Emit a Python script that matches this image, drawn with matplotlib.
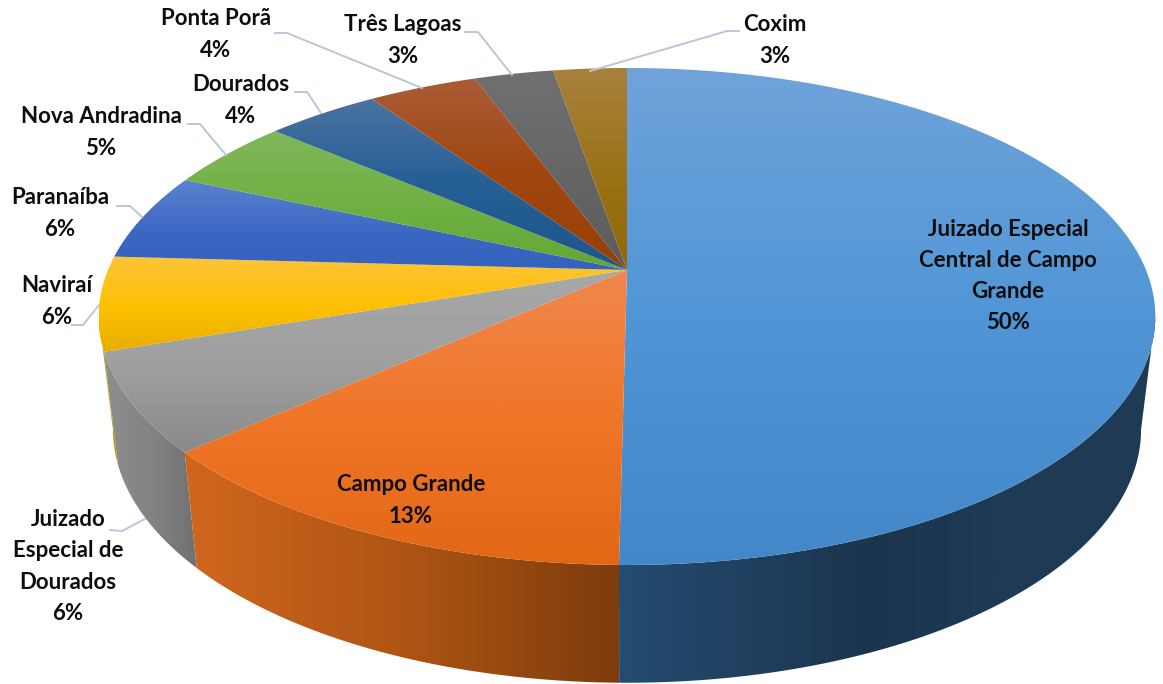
import numpy as np
import matplotlib
matplotlib.use("Agg")
import matplotlib.pyplot as plt
from matplotlib.patches import Polygon

# ---- data ----
categories = ["Juizado Especial\nCentral de Campo\nGrande", "Campo Grande",
              "Juizado\nEspecial de\nDourados", "Naviraí", "Paranaíba",
              "Nova Andradina", "Dourados", "Ponta Porã", "Três Lagoas", "Coxim"]
shares = [50.2, 13.2, 6.4, 6.1, 5.7, 4.65, 4.15, 4.0, 2.9, 2.7]
percent_labels = ["50%", "13%", "6%", "6%", "6%", "5%", "4%", "4%", "3%", "3%"]

# ---- style: (position, rgb) gradient stops ----
top_stops = [
    [(0, (112, 163, 218)), (.5, (80, 150, 214)), (1, (66, 135, 200))],
    [(0, (240, 135, 78)), (.5, (240, 118, 40)), (1, (226, 104, 22))],
    [(0, (168, 168, 168)), (.5, (160, 160, 160)), (1, (138, 138, 138))],
    [(0, (252, 196, 58)), (.55, (255, 192, 0)), (1, (230, 174, 0))],
    [(0, (92, 130, 208)), (.6, (58, 103, 194)), (1, (52, 98, 188))],
    [(0, (128, 184, 90)), (.6, (110, 175, 65)), (1, (100, 165, 55))],
    [(0, (75, 115, 160)), (.5, (36, 95, 150)), (1, (30, 85, 140))],
    [(0, (170, 92, 55)), (.5, (160, 70, 15)), (1, (150, 65, 5))],
    [(0, (112, 112, 112)), (.5, (102, 102, 102)), (1, (92, 92, 92))],
    [(0, (168, 130, 62)), (.5, (155, 115, 25)), (1, (145, 105, 5))],
]
wall_stops = [
    [(0, (37, 76, 114)), (.45, (27, 53, 78)), (.7, (30, 58, 84)), (1, (30, 58, 85))],
    [(0, (208, 102, 30)), (.5, (175, 85, 20)), (1, (125, 60, 12))],
    [(0, (142, 142, 142)), (.55, (130, 130, 130)), (1, (112, 112, 112))],
    [(0, (200, 155, 0)), (1, (190, 150, 0))],
] + [[(0, (120, 120, 120)), (1, (120, 120, 120))]] * 6

W, H = 1163, 684
CX = 627
PERSP = 0.187
TOP_R, TOP_K, TOP_Y = 519, 239.8, 270
BOT_R, BOT_K, BOT_Y = 505, 244.5, 382
FRONT_FROM = np.arccos(-PERSP)           # where the rim is at its widest
FRONT_TO = 2 * np.pi - FRONT_FROM


def rim(theta, r, k, ay):
    x, y = np.sin(theta), np.cos(theta)
    s = 1 / (1 + PERSP * y)
    return np.column_stack([CX + r * x * s, ay - k * y * s])


def gradient(stops, n=400):
    pos = [p for p, _ in stops]
    cols = np.array([c for _, c in stops], float) / 255
    t = np.linspace(0, 1, n)
    return np.column_stack([np.interp(t, pos, cols[:, i]) for i in range(3)])


def paint(ax, pts, stops, horizontal, z):
    x0, y0 = pts.min(axis=0)
    x1, y1 = pts.max(axis=0)
    g = gradient(stops)
    img = g[None, :, :] if horizontal else g[:, None, :]
    im = ax.imshow(img, extent=(x0, x1, y1, y0), aspect="auto",
                   interpolation="bilinear", zorder=z, origin="upper")
    patch = Polygon(pts, closed=True, transform=ax.transData,
                    facecolor="none", edgecolor="none")
    ax.add_patch(patch)
    im.set_clip_path(patch)


fig = plt.figure(figsize=(W / 100, H / 100), dpi=100)
ax = fig.add_axes([0, 0, 1, 1])

edges = np.radians(np.concatenate([[0], np.cumsum(shares)]) / sum(shares) * 360)

# side walls: only the part of each slice on the front of the pie
for i in range(len(shares)):
    lo, hi = max(edges[i], FRONT_FROM), min(edges[i + 1], FRONT_TO)
    if lo >= hi:
        continue
    th = np.linspace(lo, hi, 160)
    a = rim(th, TOP_R, TOP_K, TOP_Y)
    b = rim(th, BOT_R, BOT_K, BOT_Y)
    paint(ax, np.vstack([a, b[::-1]]), wall_stops[i], True, 1 + (10 - i) * 0.01)

# top faces
for i in range(len(shares)):
    a = rim(np.linspace(edges[i], edges[i + 1], 160), TOP_R, TOP_K, TOP_Y)
    pts = np.vstack([[CX, TOP_Y], a])
    paint(ax, pts, top_stops[i], False, 2 + i * 0.01)

# leader lines
leaders = {
    2: [(110, 530), (122, 531), (145, 519)],
    3: [(72, 325), (83, 325), (99, 305)],
    4: [(117, 206), (130, 206), (142, 217)],
    5: [(188, 124), (200, 124), (226, 155)],
    6: [(295, 92), (307, 92), (321, 113)],
    7: [(275, 33), (287, 33), (422, 88)],
    8: [(465, 32), (478, 32), (512, 75)],
    9: [(739, 31), (727, 31), (590, 71)],
}
for pts in leaders.values():
    xs, ys = zip(*pts)
    ax.plot(xs, ys, color="#b9c7d9", lw=1.4, zorder=3, solid_joinstyle="round")

# labels
label_pos = [(1008, 276), (411, 500.5), (68, 566.5), (57, 301.5), (60, 213.5),
             (101, 132.5), (241, 100.5), (216, 34.5), (403, 40.5), (775, 40.5)]
for cat, pct, (x, y) in zip(categories, percent_labels, label_pos):
    ax.text(x, y, f"{cat}\n{pct}", ha="center", va="center", ma="center",
            family="Lato", weight="bold", fontsize=16, color="#0d0d0d",
            linespacing=1.6, zorder=4)

ax.set_xlim(0, W)
ax.set_ylim(H, 0)
ax.axis("off")
fig.savefig("out.png", dpi=100, facecolor="white")
